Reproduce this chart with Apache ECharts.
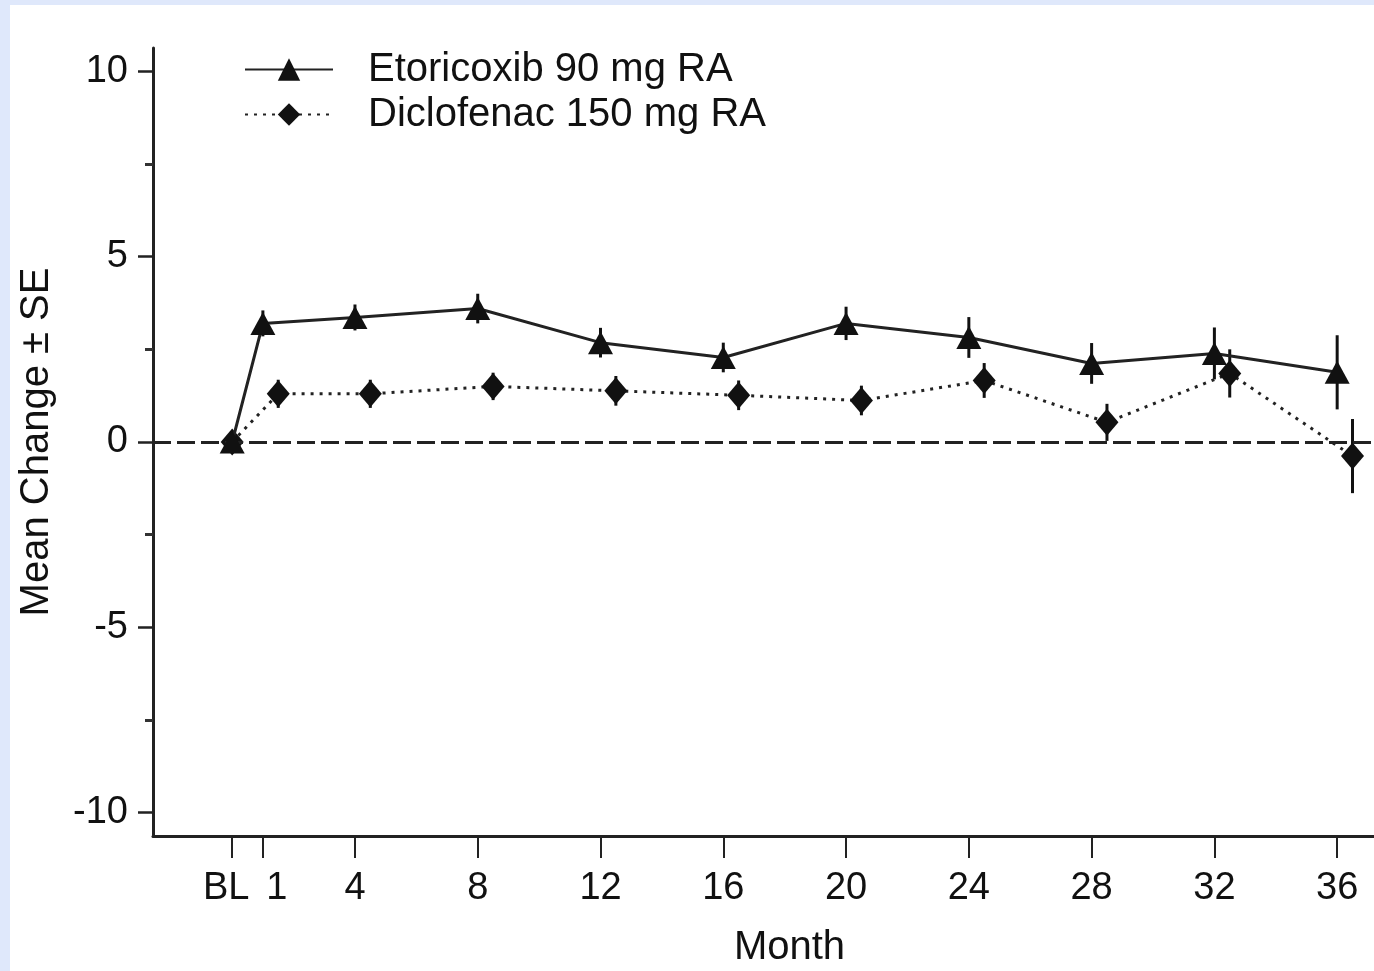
<!DOCTYPE html>
<html>
<head>
<meta charset="utf-8">
<script src="https://cdn.jsdelivr.net/npm/echarts@6/dist/echarts.min.js"></script>
<style>
html,body{margin:0;padding:0;background:#dfe8fb;}
#chart{position:absolute;left:10px;top:5px;width:1364px;height:966px;background:#fff;}
</style>
</head>
<body>
<div id="chart"></div>
<script>
// months (BL = 0)
var months = [0, 1, 4, 8, 12, 16, 20, 24, 28, 32, 36];
// diclofenac points are drawn a little to the right of the tick
var dicMonths = [0, 1.5, 4.5, 8.5, 12.5, 16.5, 20.5, 24.5, 28.5, 32.5, 36.5];
var etoMean = [0, 3.2, 3.36, 3.6, 2.68, 2.28, 3.2, 2.82, 2.12, 2.39, 1.88];
var etoSE = [0, 0.35, 0.35, 0.4, 0.4, 0.4, 0.45, 0.55, 0.55, 0.7, 1.0];
var dicMean = [0, 1.3, 1.3, 1.5, 1.38, 1.26, 1.12, 1.66, 0.53, 1.85, -0.38];
var dicSE = [0, 0.38, 0.38, 0.37, 0.4, 0.4, 0.4, 0.47, 0.5, 0.65, 1.0];
var yTicks = [-10, -5, 0, 5, 10];
var yMinor = [-7.5, -2.5, 2.5, 7.5];

var font = 'Liberation Sans, Arial, sans-serif';

function pairs(xs, ys){
	var out = [];
	for(var i=0;i<xs.length;i++){ out.push([xs[i], ys[i]]); }
	return out;
}
function bars(xs, ys, se){
	var out = [];
	for(var i=0;i<xs.length;i++){ out.push([xs[i], ys[i]-se[i], ys[i]+se[i]]); }
	return out;
}
function errRender(params, api){
	var p1 = api.coord([api.value(0), api.value(1)]);
	var p2 = api.coord([api.value(0), api.value(2)]);
	return {
		type:'line',
		shape:{x1:p1[0], y1:p1[1], x2:p2[0], y2:p2[1]},
		style:{stroke:'#111', lineWidth:3}
	};
}

var myChart = echarts.init(document.getElementById('chart'));
var option = {
	animation:false,
	textStyle:{fontFamily:font},
	legend:{
		orient:'vertical',
		left:229,
		top:37,
		itemWidth:88,
		itemHeight:28,
		itemGap:0,
		data:['Etoricoxib 90 mg RA','Diclofenac 150 mg RA'],
		textStyle:{fontSize:40, color:'#111', fontFamily:font, padding:[0,0,0,30], lineHeight:45}
	},
	grid:{left:143, top:43, right:0, bottom:135, outerBoundsMode:'none'},
	xAxis:{
		type:'value',
		min:-2.58,
		max:37.2,
		name:'Month',
		nameLocation:'middle',
		nameGap:92,
		nameTextStyle:{fontSize:40, color:'#111', fontFamily:font, padding:[0,0,0,52]},
		splitLine:{show:false},
		axisLine:{onZero:false, lineStyle:{color:'#222', width:3}},
		axisTick:{show:true, length:22, customValues:months, lineStyle:{color:'#222', width:2}},
		axisLabel:{
			customValues:months,
			margin:34,
			fontSize:38,
			color:'#111',
			fontFamily:font,
			formatter:function(v){
				if(v===0) return '{bl|BL}';
				if(v===1) return '{one|1}';
				return v;
			},
			rich:{
				bl:{fontSize:38, color:'#111', fontFamily:font, padding:[0,12,0,0]},
				one:{fontSize:38, color:'#111', fontFamily:font, padding:[0,0,0,28]}
			}
		}
	},
	yAxis:[{
		type:'value',
		min:-10.63,
		max:10.63,
		name:'Mean Change \u00b1 SE',
		nameLocation:'middle',
		nameGap:96,
		nameTextStyle:{fontSize:40, color:'#111', fontFamily:font},
		splitLine:{show:false},
		axisLine:{show:true, onZero:false, lineStyle:{color:'#222', width:3}},
		axisTick:{show:true, length:15, customValues:yTicks, lineStyle:{color:'#222', width:2.5}},
		axisLabel:{customValues:yTicks, margin:25, fontSize:38, color:'#111', fontFamily:font}
	},{
		// minor ticks
		type:'value',
		position:'left',
		min:-10.63,
		max:10.63,
		splitLine:{show:false},
		axisLine:{show:false, onZero:false},
		axisTick:{show:true, length:8, customValues:yMinor, lineStyle:{color:'#333', width:3}},
		axisLabel:{show:false}
	}],
	series:[
		{
			name:'zero',
			type:'line',
			data:[],
			markLine:{
				silent:true,
				symbol:'none',
				label:{show:false},
				lineStyle:{color:'#222', width:3, type:[18,6]},
				data:[{yAxis:0}]
			}
		},
		{
			name:'etoErr',
			type:'custom',
			renderItem:errRender,
			encode:{x:0, y:[1,2]},
			data:bars(months, etoMean, etoSE),
			z:3
		},
		{
			name:'dicErr',
			type:'custom',
			renderItem:errRender,
			encode:{x:0, y:[1,2]},
			data:bars(dicMonths, dicMean, dicSE),
			z:3
		},
		{
			name:'Diclofenac 150 mg RA',
			type:'line',
			data:pairs(dicMonths, dicMean),
			symbol:'diamond',
			symbolSize:[23,27],
			itemStyle:{color:'#111'},
			lineStyle:{color:'#222', width:3, type:[3,6]},
			z:4
		},
		{
			name:'Etoricoxib 90 mg RA',
			type:'line',
			data:pairs(months, etoMean),
			symbol:'triangle',
			symbolSize:[25,23],
			itemStyle:{color:'#111'},
			lineStyle:{color:'#222', width:3},
			z:5
		}
	]
};
myChart.setOption(option);
</script>
</body>
</html>
